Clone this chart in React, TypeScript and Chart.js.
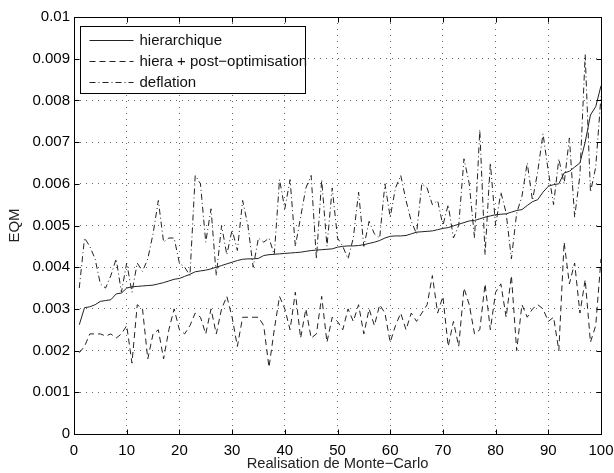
import React, { useEffect, useRef } from "react";
import { Chart, registerables } from "chart.js";

Chart.register(...registerables);

const FONT = "'Liberation Sans', Arial, Helvetica, sans-serif";

const runs: number[] = Array.from({ length: 100 }, (_, i) => i + 1);

const xTickValues = [0, 10, 20, 30, 40, 50, 60, 70, 80, 90, 100];
const yTickValues = [0, 0.001, 0.002, 0.003, 0.004, 0.005, 0.006, 0.007, 0.008, 0.009, 0.01];

const seriesLabels = ["hierarchique", "hiera + post\u2212optimisation", "deflation"];

const hierarchique = [
  0.00262, 0.00303, 0.00305, 0.0031, 0.00318, 0.0032, 0.00322, 0.00336, 0.00338, 0.0035,
  0.00353, 0.00354, 0.00355, 0.00356, 0.00357, 0.0036, 0.00363, 0.00367, 0.00371, 0.00373,
  0.00378, 0.00383, 0.00389, 0.00391, 0.00393, 0.00396, 0.004, 0.00404, 0.00408, 0.00412,
  0.00416, 0.00419, 0.0042, 0.0042, 0.00421, 0.00428, 0.0043, 0.00431, 0.00432, 0.00433,
  0.00434, 0.00435, 0.00436, 0.00438, 0.0044, 0.00441, 0.00442, 0.00443, 0.00444, 0.00448,
  0.0045, 0.00451, 0.00451, 0.00452, 0.00454, 0.00457, 0.0046, 0.00464, 0.0047, 0.00474,
  0.00475, 0.00475, 0.00476, 0.0048, 0.00484, 0.00485, 0.00486, 0.00487, 0.0049, 0.00493,
  0.00495, 0.00499, 0.00503, 0.00507, 0.00511, 0.00512, 0.00516, 0.0052, 0.00523, 0.00526,
  0.00527, 0.00528, 0.00532, 0.00536, 0.00538, 0.00548, 0.00557, 0.00562, 0.0058, 0.00594,
  0.00598, 0.006, 0.00626, 0.0063, 0.0064, 0.0065, 0.007, 0.00765, 0.00785, 0.00835,
];

const hieraPostOptim = [
  0.00195, 0.0021, 0.0024, 0.0024, 0.0024, 0.00235, 0.0024, 0.0023, 0.0024, 0.0026,
  0.0017, 0.0031, 0.003, 0.0018, 0.0024, 0.0025, 0.0018, 0.0025, 0.003, 0.0025,
  0.0024, 0.0026, 0.0029, 0.0028, 0.0024, 0.003, 0.0024, 0.003, 0.0033, 0.0028,
  0.0021, 0.0028, 0.0028, 0.0028, 0.0028, 0.0026, 0.0016, 0.0025, 0.0033, 0.003,
  0.0025, 0.0034, 0.0023, 0.003, 0.0023, 0.0024, 0.0033, 0.0022, 0.0028, 0.0027,
  0.0025, 0.003, 0.0027, 0.0031, 0.0024, 0.003, 0.0026, 0.0031, 0.0029, 0.0022,
  0.0026, 0.0029, 0.0025, 0.0029, 0.0027, 0.0029, 0.0031, 0.0038, 0.0029, 0.0033,
  0.0021, 0.0027, 0.0021, 0.0035, 0.0031, 0.0024, 0.0025, 0.0036, 0.0025, 0.0034,
  0.0036, 0.0028, 0.0038, 0.002, 0.0031, 0.0028, 0.003, 0.0031, 0.003, 0.0027,
  0.0028, 0.002, 0.0046, 0.0036, 0.0041, 0.0029, 0.0037, 0.0022, 0.0026, 0.0042,
];

const deflation = [
  0.0035, 0.0047, 0.0045, 0.0042, 0.0036, 0.0035, 0.0038, 0.0042, 0.0034, 0.0041,
  0.0034, 0.0041, 0.0039, 0.0042, 0.0048, 0.0056, 0.0046, 0.0047, 0.0047, 0.0041,
  0.004, 0.0038, 0.0062, 0.006, 0.0046, 0.0054, 0.0038, 0.005, 0.0043, 0.0049,
  0.0044, 0.0056, 0.005, 0.004, 0.0047, 0.0046, 0.0047, 0.0043, 0.0061, 0.0054,
  0.0061, 0.0045, 0.0052, 0.0059, 0.0062, 0.0042, 0.0061, 0.0045, 0.0059, 0.0047,
  0.0045, 0.0042, 0.0047, 0.0058, 0.0045, 0.0051, 0.0048, 0.0047, 0.006, 0.0052,
  0.0059, 0.0062, 0.0056, 0.0051, 0.0048, 0.006, 0.0059, 0.0055, 0.0056, 0.005,
  0.0055, 0.0047, 0.005, 0.0066, 0.006, 0.0047, 0.0073, 0.0043, 0.0065, 0.005,
  0.0058, 0.0053, 0.0042, 0.0053, 0.0057, 0.0065, 0.0056, 0.0063, 0.0072, 0.0063,
  0.0055, 0.0066, 0.006, 0.0071, 0.0052, 0.0062, 0.0091, 0.0058, 0.0064, 0.0081,
];

const seriesValues = [hierarchique, hieraPostOptim, deflation];
const seriesDashes: number[][] = [[], [6, 4], [6, 3, 1, 3]];

const matlabFrame = {
  id: "matlabFrame",
  afterDraw(chart: any) {
    const { ctx, chartArea: a, scales } = chart;
    const sx = scales.x;
    const sy = scales.y;
    const L = 5;
    ctx.save();
    ctx.strokeStyle = "#000";
    ctx.lineWidth = 1;
    ctx.setLineDash([]);
    const left = Math.round(a.left) + 0.5;
    const right = Math.round(a.right) + 0.5;
    const top = Math.round(a.top) + 0.5;
    const bottom = Math.round(a.bottom) + 0.5;
    ctx.beginPath();
    xTickValues.forEach((v) => {
      const px = Math.round(sx.getPixelForValue(v)) + 0.5;
      ctx.moveTo(px, bottom);
      ctx.lineTo(px, bottom - L);
      ctx.moveTo(px, top);
      ctx.lineTo(px, top + L);
    });
    yTickValues.forEach((v) => {
      const py = Math.round(sy.getPixelForValue(v)) + 0.5;
      ctx.moveTo(left, py);
      ctx.lineTo(left + L, py);
      ctx.moveTo(right, py);
      ctx.lineTo(right - L, py);
    });
    ctx.stroke();
    ctx.strokeRect(left, top, right - left, bottom - top);

    // legend box
    const x0 = left + 6;
    const y0 = top + 9;
    const w = 225;
    const h = 67;
    ctx.fillStyle = "#fff";
    ctx.fillRect(x0, y0, w, h);
    ctx.strokeStyle = "#000";
    ctx.strokeRect(x0, y0, w, h);
    ctx.font = `15px ${FONT}`;
    ctx.textBaseline = "middle";
    ctx.textAlign = "left";
    chart.data.datasets.forEach((ds: any, i: number) => {
      const y = Math.round(y0 + 13 + 21 * i) + 0.5;
      ctx.strokeStyle = "#222";
      ctx.setLineDash(ds.borderDash || []);
      ctx.beginPath();
      ctx.moveTo(x0 + 9, y);
      ctx.lineTo(x0 + 53, y);
      ctx.stroke();
      ctx.setLineDash([]);
      ctx.fillStyle = "#111";
      ctx.fillText(ds.label, x0 + 59, y);
    });
    ctx.restore();
  },
};

export default function App() {
  const ref = useRef<HTMLCanvasElement | null>(null);

  useEffect(() => {
    if (!ref.current) return;
    const chart = new Chart(ref.current, {
      type: "line",
      data: {
        datasets: seriesValues.map((vals, i) => ({
          label: seriesLabels[i],
          data: vals.map((v, j) => ({ x: runs[j], y: v })),
          borderColor: "#222",
          borderWidth: 1,
          borderDash: seriesDashes[i],
          pointRadius: 0,
          tension: 0,
          fill: false,
        })),
      },
      options: {
        animation: false,
        responsive: false,
        devicePixelRatio: 1,
        layout: { padding: { left: 0, top: 17, right: 13, bottom: 0 } },
        plugins: {
          legend: { display: false },
          tooltip: { enabled: false },
        },
        scales: {
          x: {
            type: "linear",
            min: 0,
            max: 100,
            afterBuildTicks: (s: any) => {
              s.ticks = xTickValues.map((v) => ({ value: v }));
            },
            ticks: {
              color: "#000",
              font: { family: FONT, size: 15 },
              padding: 8,
              maxRotation: 0,
              autoSkip: false,
              callback: (v: any) => String(v),
            },
            grid: { color: "#666", lineWidth: 1, drawTicks: false },
            border: { display: false, dash: [1, 5] },
            title: {
              display: true,
              text: "Realisation de Monte\u2212Carlo",
              color: "#222",
              font: { family: FONT, size: 14.7 },
              padding: { top: 1, bottom: 0 },
            },
            afterFit: (s: any) => {
              s.height = 39;
              s.paddingLeft = 0;
              s.paddingRight = 0;
            },
          },
          y: {
            type: "linear",
            min: 0,
            max: 0.01,
            afterBuildTicks: (s: any) => {
              s.ticks = yTickValues.map((v) => ({ value: v }));
            },
            ticks: {
              color: "#000",
              font: { family: FONT, size: 15 },
              padding: 4,
              autoSkip: false,
              callback: (v: any) => String(Number(Number(v).toFixed(4))),
            },
            grid: { color: "#666", lineWidth: 1, drawTicks: false },
            border: { display: false, dash: [1, 5] },
            title: {
              display: true,
              text: "EQM",
              color: "#222",
              font: { family: FONT, size: 15 },
              padding: { top: 6, bottom: 0 },
            },
            afterFit: (s: any) => {
              s.width = 74;
              s.paddingTop = 0;
              s.paddingBottom = 0;
            },
          },
        },
      },
      plugins: [matlabFrame],
    } as any);
    return () => chart.destroy();
  }, []);

  return (
    <div style={{ position: "fixed", left: 0, top: 0, width: 614, height: 473, background: "#fff" }}>
      <canvas ref={ref} width={614} height={473} style={{ width: 614, height: 473, display: "block" }} />
    </div>
  );
}
